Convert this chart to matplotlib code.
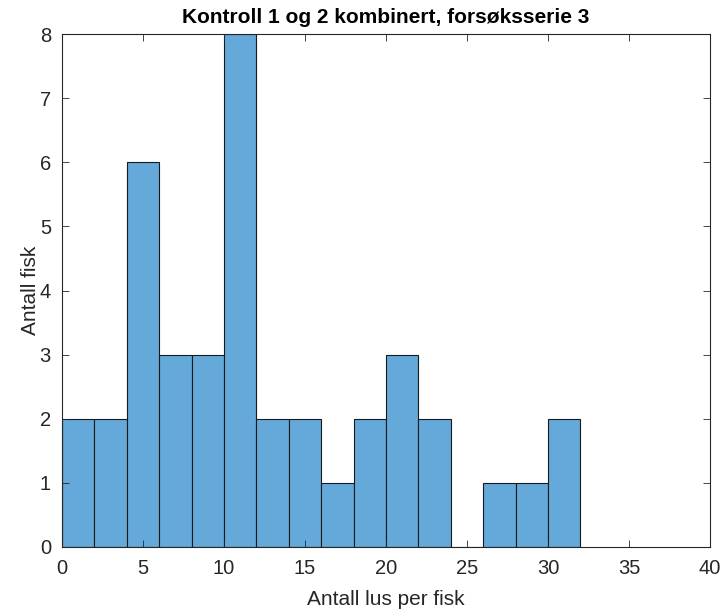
import matplotlib
matplotlib.use("Agg")
import matplotlib.pyplot as plt
import numpy as np

plt.rcParams['font.family'] = ['Liberation Sans', 'DejaVu Sans']

bin_edges = [0, 2, 4, 6, 8, 10, 12, 14, 16, 18, 20, 22, 24, 26, 28, 30, 32]
counts = [2, 2, 6, 3, 3, 8, 2, 2, 1, 2, 3, 2, 0, 1, 1, 2]
title = "Kontroll 1 og 2 kombinert, forsøksserie 3"
xlabel = "Antall lus per fisk"
ylabel = "Antall fisk"

fig = plt.figure(figsize=(7.24, 6.11), dpi=100)
ax = fig.add_axes([62/724, 64/611, (710-62)/724, (547-34)/611])

edges = np.array(bin_edges)
ax.bar(edges[:-1], counts, width=np.diff(edges), align='edge',
       color='#64a9d9', edgecolor='#1a1a1a', linewidth=0.8)

ax.set_xlim(0, 40)
ax.set_ylim(0, 8)
ax.set_xticks(range(0, 41, 5))
ax.set_yticks(range(0, 9))
tc = '#262626'
ax.tick_params(direction='in', top=True, right=True, length=5, width=0.6,
               labelsize=14.5, colors=tc, labelcolor=tc)
ax.tick_params(axis='x', pad=9)
ax.tick_params(axis='y', pad=8)
for s in ax.spines.values():
    s.set_color(tc)
    s.set_linewidth(0.8)
ax.set_xlabel(xlabel, fontsize=15, color=tc, labelpad=8)
ax.set_ylabel(ylabel, fontsize=15, color=tc, labelpad=0)
ax.set_title(title, fontsize=15, fontweight='bold', color='black', pad=8)

fig.savefig("out.png", dpi=100)
